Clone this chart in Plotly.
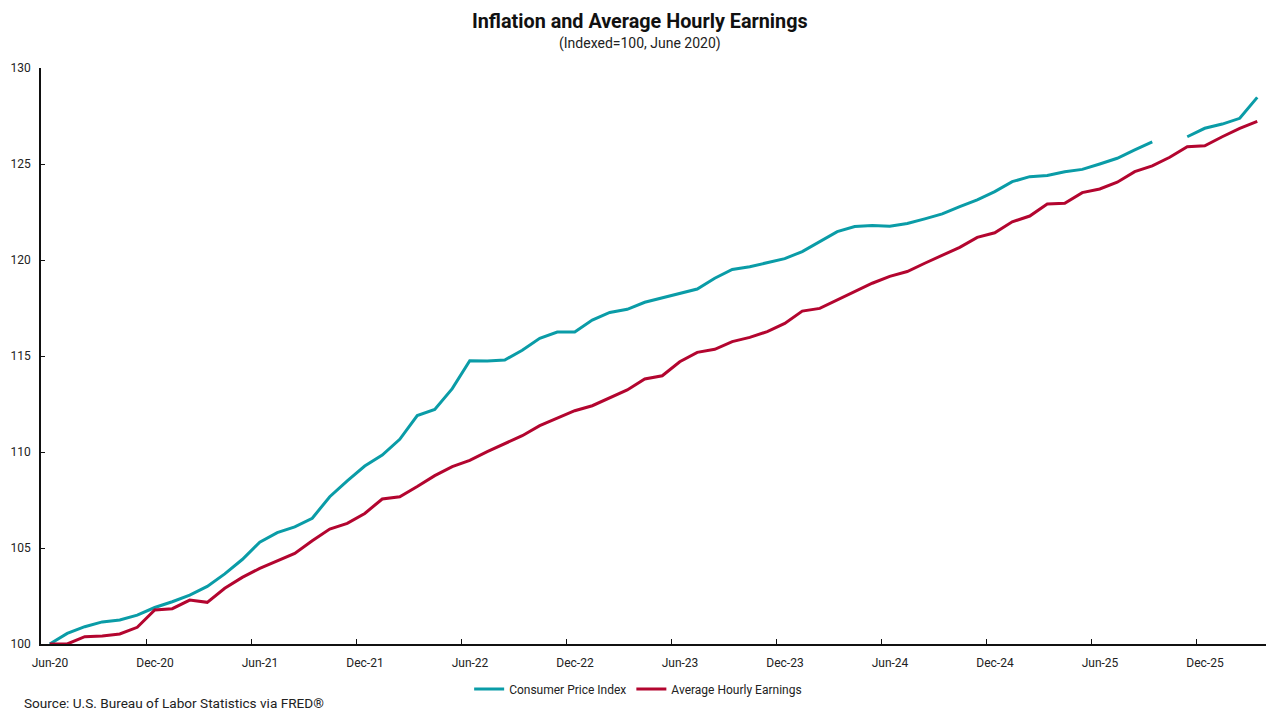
import plotly.graph_objects as go

months = ["Jun-20","Jul-20","Aug-20","Sep-20","Oct-20","Nov-20","Dec-20","Jan-21","Feb-21","Mar-21","Apr-21","May-21",
          "Jun-21","Jul-21","Aug-21","Sep-21","Oct-21","Nov-21","Dec-21","Jan-22","Feb-22","Mar-22","Apr-22","May-22",
          "Jun-22","Jul-22","Aug-22","Sep-22","Oct-22","Nov-22","Dec-22","Jan-23","Feb-23","Mar-23","Apr-23","May-23",
          "Jun-23","Jul-23","Aug-23","Sep-23","Oct-23","Nov-23","Dec-23","Jan-24","Feb-24","Mar-24","Apr-24","May-24",
          "Jun-24","Jul-24","Aug-24","Sep-24","Oct-24","Nov-24","Dec-24","Jan-25","Feb-25","Mar-25","Apr-25","May-25",
          "Jun-25","Jul-25","Aug-25","Sep-25","Oct-25","Nov-25","Dec-25","Jan-26","Feb-26","Mar-26"]

cpi = [100.0, 100.55, 100.9, 101.15, 101.25, 101.5, 101.9, 102.2, 102.55, 103.0, 103.65, 104.4,
       105.3, 105.8, 106.1, 106.55, 107.67, 108.5, 109.27, 109.84, 110.66, 111.9, 112.22, 113.3,
       114.75, 114.74, 114.79, 115.3, 115.92, 116.25, 116.25, 116.87, 117.27, 117.43, 117.8, 118.02,
       118.25, 118.49, 119.05, 119.51, 119.65, 119.86, 120.07, 120.44, 120.96, 121.48, 121.74, 121.8,
       121.76, 121.9, 122.14, 122.4, 122.78, 123.13, 123.56, 124.08, 124.34, 124.4, 124.6, 124.72,
       125.0, 125.3, 125.73, 126.15, None, 126.42, 126.86, 127.08, 127.38, 128.47]

ahe = [100.0, 100.0, 100.38, 100.42, 100.52, 100.87, 101.77, 101.84, 102.29, 102.17, 102.9, 103.47,
       103.94, 104.32, 104.72, 105.38, 105.99, 106.28, 106.8, 107.55, 107.67, 108.2, 108.77, 109.24,
       109.56, 110.02, 110.42, 110.85, 111.37, 111.75, 112.15, 112.41, 112.8, 113.23, 113.8, 113.97,
       114.7, 115.19, 115.35, 115.75, 115.97, 116.27, 116.7, 117.34, 117.48, 117.92, 118.35, 118.79,
       119.15, 119.4, 119.83, 120.26, 120.66, 121.18, 121.42, 121.99, 122.29, 122.92, 122.95, 123.51,
       123.7, 124.05, 124.6, 124.9, 125.35, 125.9, 125.95, 126.42, 126.86, 127.22]

tick_labels = ["Jun-20","Dec-20","Jun-21","Dec-21","Jun-22","Dec-22","Jun-23","Dec-23","Jun-24","Dec-24","Jun-25","Dec-25"]
y_ticks = [100, 105, 110, 115, 120, 125, 130]

idx = list(range(len(months)))
tick_pos = [months.index(t) - 0.5 for t in tick_labels]

FONT = "Roboto"
TEAL = "#0a9ca7"
RED = "#b3052f"
W = 1224.7
H = 576.0

def px(sx):
    return (sx - 41) / W

def py(sy):
    return (644 - sy) / H

fig = go.Figure()
fig.add_trace(go.Scatter(x=idx, y=cpi, mode="lines", name="Consumer Price Index",
                         line=dict(color=TEAL, width=3), connectgaps=False, customdata=months))
fig.add_trace(go.Scatter(x=idx, y=ahe, mode="lines", name="Average Hourly Earnings",
                         line=dict(color=RED, width=3), customdata=months))

fig.update_layout(
    width=1264, height=704,
    margin=dict(l=33, r=6, t=60, b=68, autoexpand=False),
    paper_bgcolor="white", plot_bgcolor="white",
    font=dict(family=FONT, color="#222222", size=12),
    showlegend=True,
    legend=dict(orientation="h", x=px(638), xanchor="center", y=py(689), yanchor="middle",
                font=dict(size=12, color="#222222"), tracegroupgap=0),
)
fig.add_annotation(text="<b>Inflation and Average Hourly Earnings</b>", xref="paper", yref="paper",
                   x=px(640), y=py(22), xanchor="center", yanchor="middle", showarrow=False,
                   font=dict(size=19.8, color="#111111", family=FONT))
fig.add_annotation(text="(Indexed=100, June 2020)", xref="paper", yref="paper",
                   x=px(640), y=py(44), xanchor="center", yanchor="middle", showarrow=False,
                   font=dict(size=14, color="#222222", family=FONT))
fig.add_annotation(text="Source: U.S. Bureau of Labor Statistics via FRED®", xref="paper", yref="paper",
                   x=px(22), y=py(703), xanchor="left", yanchor="middle", showarrow=False,
                   font=dict(size=13.6, color="#222222", family=FONT))

fig.update_xaxes(range=[-0.5, len(months) - 0.5], tickmode="array", tickvals=tick_pos, ticktext=tick_labels,
                 ticks="inside", ticklen=5, tickcolor="#111111", showline=True, linecolor="#111111", linewidth=1.5,
                 showgrid=False, zeroline=False, ticklabelshift=9, ticklabelstandoff=7, automargin=False,
                 tickfont=dict(size=12, color="#222222"))
fig.update_yaxes(range=[100, 130], tickmode="array", tickvals=y_ticks,
                 ticks="inside", ticklen=4, tickcolor="#111111", showline=True, linecolor="#111111", linewidth=1.5,
                 showgrid=False, zeroline=False, ticklabelstandoff=6, automargin=False,
                 tickfont=dict(size=12, color="#222222"))

fig.write_html("out.html")
